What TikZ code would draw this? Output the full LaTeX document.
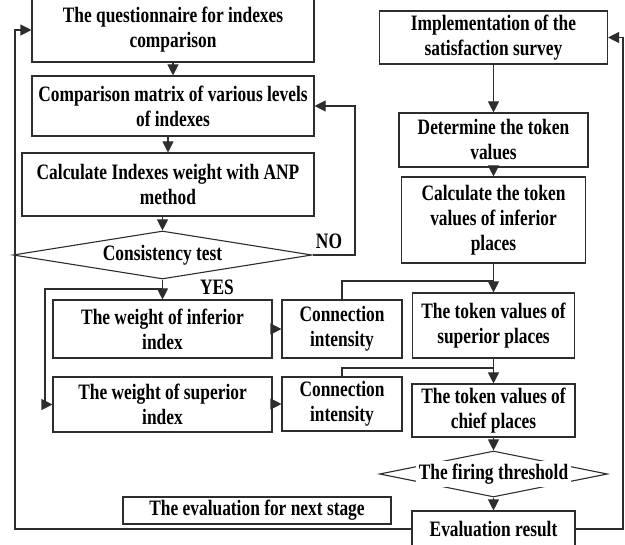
\documentclass[tikz,border=0pt]{standalone}
\usepackage{fontspec}
\setmainfont{Liberation Serif}[FakeStretch=0.79]
\usetikzlibrary{arrows.meta,shapes.geometric}
\definecolor{linec}{RGB}{45,45,45}
\begin{document}
\begin{tikzpicture}[x=1pt,y=-1pt,
  txt/.style={font=\bfseries\fontsize{22}{25}\selectfont, align=center, inner sep=0pt, text=black},
  box/.style={txt, draw=linec, line width=1.1pt},
  diam/.style={draw=linec, line width=1.1pt, shape=diamond, inner sep=0pt},
  arr/.style={draw=linec, line width=1.1pt, -{Triangle[length=11pt,width=11pt]}},
  ln/.style={draw=linec, line width=1.1pt}]
\useasboundingbox (0,0) rectangle (625,545);

% left column: index weights
\node[box, minimum width=282pt, minimum height=64pt] (q) at (173,30) {The questionnaire for indexes\\comparison};
\node[box, minimum width=282pt, minimum height=60pt] (m) at (173,106) {Comparison matrix of various levels\\of indexes};
\node[box, minimum width=292pt, minimum height=63pt] (w) at (168,184.5) {Calculate Indexes weight with ANP\\method};
\node[diam, minimum width=299pt, minimum height=48pt] (c) at (162.5,255) {};
\node[txt] at (c) {Consistency test};
\node[txt] (no) at (329,241) {NO};
\node[txt] (yes) at (217,287) {YES};
\node[box, minimum width=219pt, minimum height=58pt] (wi) at (162.5,329) {The weight of inferior\\index};
\node[box, minimum width=219pt, minimum height=55pt] (ws) at (162.5,404.5) {The weight of superior\\index};
\node[box, minimum width=120pt, minimum height=58pt] (ca) at (342,329) {Connection\\intensity};
\node[box, minimum width=120pt, minimum height=54pt] (cb) at (342,404) {Connection\\intensity};
\node[box, minimum width=268pt, minimum height=27pt] (ns) at (257,510.5) {The evaluation for next stage};

% right column: token values
\node[box, minimum width=228pt, minimum height=53pt] (sv) at (493.5,37.5) {Implementation of the\\satisfaction survey};
\node[box, minimum width=189pt, minimum height=54pt] (dt) at (493.5,140) {Determine the token\\values};
\node[box, minimum width=184pt, minimum height=86pt] (ci) at (493.5,220) {Calculate the token\\values of inferior\\places};
\node[box, minimum width=162pt, minimum height=65pt] (sp) at (493.5,325.5) {The token values of\\superior places};
\node[box, minimum width=163pt, minimum height=53pt] (cp) at (493.5,410.5) {The token values of\\chief places};
\node[diam, minimum width=228pt, minimum height=46pt] (ft) at (493.5,474) {};
\node[txt, fill=white, inner sep=3pt] at (ft) {The firing threshold};
\node[box, minimum width=163pt, minimum height=36pt] (ev) at (493.5,529) {Evaluation result};

% junction points
\coordinate (yj) at (162.5,289);
\coordinate (yl) at (45,289);
\coordinate (nr) at (355,255);
\coordinate (j1) at (493.5,281);
\coordinate (j2) at (493.5,368);
\coordinate (fr) at (623,529);
\coordinate (fl) at (15,529);

% left flow
\draw[arr] (q) -- (m);
\draw[arr] (m.south -| w.north) -- (w.north);
\draw[arr] (w.south -| c.north) -- (c.north);
\draw[arr] (c.south) -- (wi.north);
\draw[arr] (c.east) -- (nr) |- (m.east);
\draw[arr] (yj) -- (yl) |- (ws.west);
\draw[arr] (wi.east) -- (ca.west);
\draw[arr] (ws.east |- cb.west) -- (cb.west);

% right flow
\draw[arr] (sv) -- (dt);
\draw[arr] (dt) -- (ci);
\draw[arr] (ci) -- (sp);
\draw[ln] (ca.north) |- (j1);
\draw[arr] (sp) -- (cp);
\draw[ln] (cb.north) |- (j2);
\draw[arr] (cp.south) -- (ft.north);
\draw[arr] (ft.south) -- (ev.north);

% feedback loops
\draw[arr] (ev.east) -- (fr) |- (sv.east);
\draw[arr] (ev.west) -- (fl) |- (q.west);
\end{tikzpicture}
\end{document}
